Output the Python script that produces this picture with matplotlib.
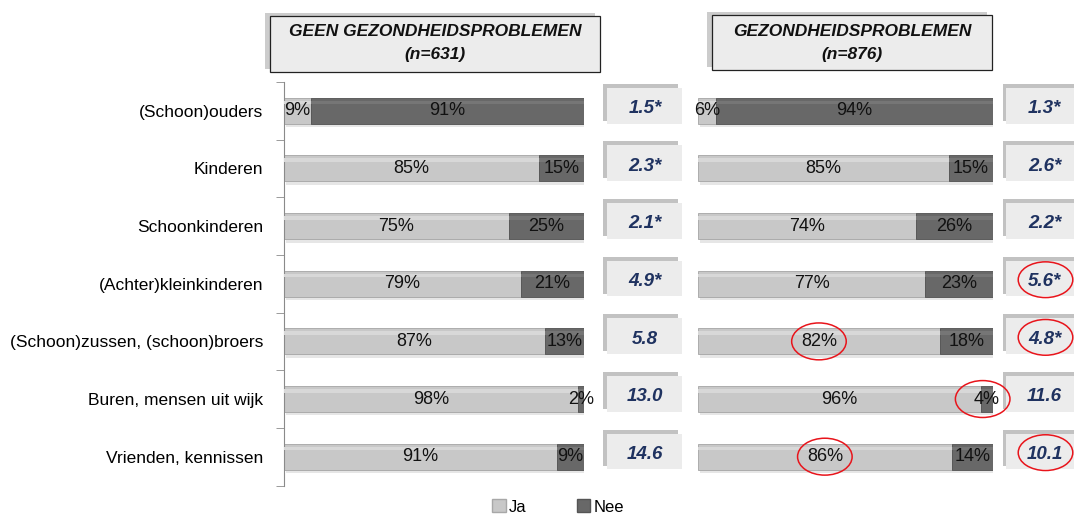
import matplotlib
matplotlib.use("Agg")
import matplotlib.pyplot as plt
from matplotlib.patches import Rectangle, Ellipse, Patch
import numpy as np

plt.rcParams['font.family'] = ['Liberation Sans', 'DejaVu Sans']

categories = ["(Schoon)ouders", "Kinderen", "Schoonkinderen", "(Achter)kleinkinderen",
              "(Schoon)zussen, (schoon)broers", "Buren, mensen uit wijk", "Vrienden, kennissen"]
left_ja = [9, 85, 75, 79, 87, 98, 91]
left_nee = [91, 15, 25, 21, 13, 2, 9]
right_ja = [6, 85, 74, 77, 82, 96, 86]
right_nee = [94, 15, 26, 23, 18, 4, 14]
left_values = ["1.5*", "2.3*", "2.1*", "4.9*", "5.8", "13.0", "14.6"]
right_values = ["1.3*", "2.6*", "2.2*", "5.6*", "4.8*", "11.6", "10.1"]
left_title = ["GEEN GEZONDHEIDSPROBLEMEN", "(n=631)"]
right_title = ["GEZONDHEIDSPROBLEMEN", "(n=876)"]
legend_labels = ["Ja", "Nee"]
circled_bar_labels = [(4, "ja"), (5, "nee"), (6, "ja")]   # right chart
circled_values = [3, 4, 6]                                 # right chart boxes

W, H = 1074, 515
fig = plt.figure(figsize=(W / 100, H / 100), dpi=100)

JA = "#c8c8c8"
NEE = "#686868"
NAVY = "#1f3260"

def fx(px):
    return px / W

def fy(py):
    return 1 - py / H

y0, y1 = 82, 485.5
axL = fig.add_axes([fx(284), fy(y1), fx(584) - fx(284), fy(y0) - fy(y1)])
axR = fig.add_axes([fx(698), fy(y1), fx(993) - fx(698), fy(y0) - fy(y1)])

rows = np.arange(len(categories))
bh = 0.45

def draw(ax, ja, nee, values, box_x0, box_x1, text_x, left_axis):
    ax.set_xlim(0, 100)
    ax.set_ylim(len(categories) - 0.5, -0.5)
    # soft shadow under bars
    ax.barh(rows + 0.06, 100, height=bh, left=0.6, color="#e6e6e6", zorder=1)
    ax.barh(rows, ja, height=bh, color=JA, edgecolor="#a4a4a4", linewidth=0.6, zorder=2)
    ax.barh(rows, nee, height=bh, left=ja, color=NEE, edgecolor="#505050", linewidth=0.6, zorder=2)
    # subtle top highlight
    ax.barh(rows - bh * 0.32, ja, height=bh * 0.14, color="#d8d8d8", zorder=3, linewidth=0)
    ax.barh(rows - bh * 0.32, nee, left=ja, height=bh * 0.14, color="#767676", zorder=3, linewidth=0)
    for i in rows:
        ax.text(ja[i] / 2, i, f"{ja[i]}%", ha="center", va="center", fontsize=13, color="#111111", zorder=5)
        ax.text(ja[i] + nee[i] / 2, i, f"{nee[i]}%", ha="center", va="center", fontsize=13, color="#111111", zorder=5)
        # value box with shadow
        ax.add_patch(Rectangle((box_x0 - 1.2, i - 0.47), box_x1 - box_x0, 0.64,
                               facecolor="#c2c2c2", edgecolor="none", clip_on=False, zorder=1))
        ax.add_patch(Rectangle((box_x0, i - 0.40), box_x1 - box_x0, 0.62,
                               facecolor="#ececec", edgecolor="none", clip_on=False, zorder=2))
        ax.text(text_x, i - 0.04, values[i], ha="center", va="center", fontsize=13.5,
                fontweight="bold", fontstyle="italic", color=NAVY, zorder=5, clip_on=False)
    for s in ["top", "right", "bottom"]:
        ax.spines[s].set_visible(False)
    ax.set_xticks([])
    if left_axis:
        ax.spines["left"].set_color("#8a8a8a")
        ax.set_yticks(rows)
        ax.set_yticklabels(categories, fontsize=12.5)
        ax.tick_params(axis="y", which="major", length=0, pad=15)
        ax.set_yticks(np.arange(-0.5, len(categories), 1.0), minor=True)
        ax.tick_params(axis="y", which="minor", length=6, color="#8a8a8a", direction="out")
    else:
        ax.spines["left"].set_visible(False)
        ax.set_yticks([])

draw(axL, left_ja, left_nee, left_values, 107.5, 132.5, 120.3, True)
draw(axR, right_ja, right_nee, right_values, 104.5, 130.0, 117.5, False)

# red ellipses on right chart
for i, part in circled_bar_labels:
    if part == "ja":
        cx = right_ja[i] / 2
    else:
        cx = right_ja[i] + right_nee[i] / 2 - 1.5
    axR.add_patch(Ellipse((cx, i), 18.5, 0.64, fill=False, edgecolor="#e8141b",
                          linewidth=1.1, clip_on=False, zorder=6))
for i in circled_values:
    axR.add_patch(Ellipse((117.8, i - 0.07), 18.5, 0.62, fill=False, edgecolor="#e8141b",
                          linewidth=1.1, clip_on=False, zorder=6))

# header boxes
def header(x0, x1, ytop, ybot, lines):
    fig.add_artist(Rectangle((fx(x0 - 5), fy(ybot - 3)), fx(x1 - x0), fy(ytop - 3) - fy(ybot - 3),
                             transform=fig.transFigure, facecolor="#cccccc", edgecolor="none"))
    fig.add_artist(Rectangle((fx(x0), fy(ybot)), fx(x1 - x0), fy(ytop) - fy(ybot),
                             transform=fig.transFigure, facecolor="#ececec", edgecolor="#222222",
                             linewidth=0.9))
    cx = (x0 + x1) / 2
    fig.text(fx(cx), fy(ytop + 16), lines[0], ha="center", va="center", fontsize=12.5,
             fontweight="bold", fontstyle="italic", color="#111111")
    fig.text(fx(cx), fy(ytop + 39), lines[1], ha="center", va="center", fontsize=12.5,
             fontweight="bold", fontstyle="italic", color="#111111")

header(270, 600, 16, 72, left_title)
header(712, 992, 15, 70, right_title)

handles = [Patch(facecolor=JA, edgecolor="#a8a8a8"), Patch(facecolor=NEE, edgecolor="#555555")]
fig.legend(handles, legend_labels, loc="center", bbox_to_anchor=(fx(558), fy(507)), ncol=2,
           frameon=False, fontsize=12, handlelength=0.8, handleheight=0.8, handletextpad=0.2,
           columnspacing=3.0, borderpad=0)

fig.savefig("out.png", dpi=100)
